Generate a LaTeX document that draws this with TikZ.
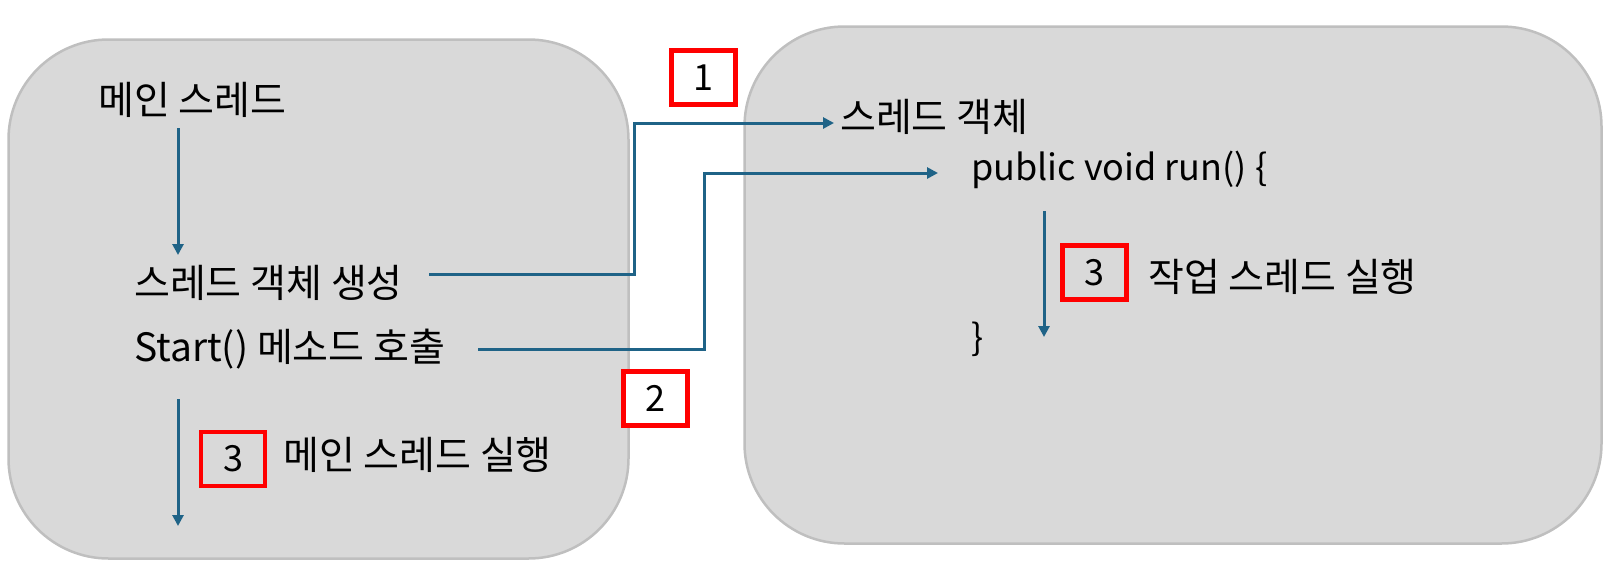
\documentclass[tikz,border=0pt]{standalone}
\usepackage{fontspec}
\setmainfont{Noto Sans CJK KR}
\usetikzlibrary{arrows.meta, positioning}

\definecolor{flowblue}{RGB}{31,99,135}
\definecolor{panelgray}{RGB}{217,217,217}
\definecolor{panelline}{RGB}{191,191,191}

\tikzset{
    panel/.style={draw=panelline, line width=2.5pt, fill=panelgray, rounded corners=100pt, inner sep=0pt},
    txt/.style={anchor=west, inner sep=0pt, font=\fontsize{39}{45}\selectfont},
    codetxt/.style={txt, font=\fontsize{36}{42}\selectfont},
    stepnum/.style={draw=red, line width=4.5pt, minimum width=64pt, minimum height=54pt, inner sep=0pt, font=\fontsize{36}{42}\selectfont},
    flow/.style={draw=flowblue, line width=3pt, -{Triangle[length=11pt, width=11pt]}}
}

\begin{document}
\begin{tikzpicture}[x=1pt, y=-1pt]
    \useasboundingbox (0,0) rectangle (1611,571);

    % 1. the two thread panels
    \node[panel, minimum width=620pt, minimum height=519pt] (mainPanel) at (318.5,299) {};
    \node[panel, minimum width=857pt, minimum height=517pt] (workPanel) at (1173,285) {};

    % 2. texts of the main thread
    \node[txt] (mainT) at (98,100) {메인 스레드};
    \node[txt] (create) at (134,283) {스레드 객체 생성};
    \node[txt] (callT) at (134,349) {Start() 메소드 호출};
    \node[txt] (mainRun) at (283,455) {메인 스레드 실행};
    \coordinate (mainEnd) at (178,526);

    % 3. texts of the thread object
    \node[txt] (objT) at (840,117) {스레드 객체};
    \node[codetxt] (runT) at (971,170) {public void run() \{};
    \node[txt] (workRun) at (1148,277) {작업 스레드 실행};
    \node[codetxt] (brace) at (971,339) {\}};

    % 4. flow arrows
    \draw[flow] ([xshift=80pt, yshift=-28pt]mainT.west) -- ([xshift=44pt, yshift=28pt]create.west);
    \draw[flow] ([xshift=44pt, yshift=-50pt]callT.west) -- (mainEnd);
    \draw[flow] ([xshift=26pt, yshift=9pt]create.east) -| ([xshift=-206pt, yshift=-6pt]objT.west) -- ([xshift=-6pt, yshift=-6pt]objT.west);
    \draw[flow] ([xshift=33pt]callT.east) -| ([xshift=-267pt, yshift=-3pt]runT.west) -- ([xshift=-33pt, yshift=-3pt]runT.west);
    \draw[flow] ([xshift=73pt, yshift=-41pt]runT.west) -- ([xshift=73pt, yshift=2pt]brace.west);

    % 5. the step numbers
    \node[stepnum, fill=white] (step1) at (703.5,77.5) {1};
    \node[stepnum, fill=white] (step2) at (655.5,398.5) {2};
    \node[stepnum] (step3a) at (233,459) {3};
    \node[stepnum] (step3b) at (1094.5,272.5) {3};

\end{tikzpicture}
\end{document}
